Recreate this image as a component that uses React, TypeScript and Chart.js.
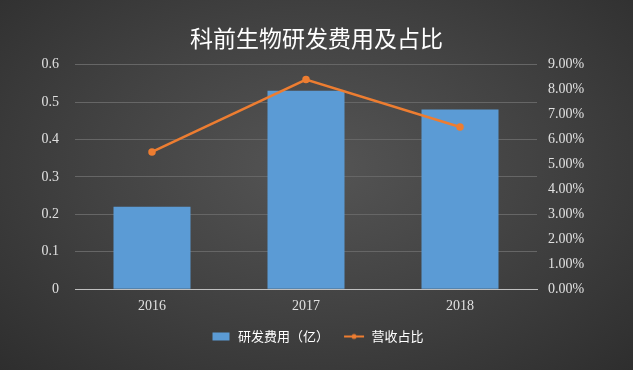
import React, { useEffect, useRef } from "react";
import { Chart, registerables } from "chart.js";

Chart.register(...registerables);

const categories = ["2016", "2017", "2018"];
const rdExpense = [0.22, 0.53, 0.48];
const revenueShare = [5.5, 8.4, 6.5];
const titleText = "科前生物研发费用及占比";
const barLabel = "研发费用（亿）";
const lineLabel = "营收占比";

const BAR_COLOR = "#5b9bd5";
const LINE_COLOR = "#ed7d31";

function makeIcon(kind: "bar" | "line"): HTMLCanvasElement {
  const c = document.createElement("canvas");
  c.width = 22;
  c.height = 10;
  const g = c.getContext("2d")!;
  if (kind === "bar") {
    g.fillStyle = BAR_COLOR;
    g.fillRect(3, 1, 17, 8);
  } else {
    g.strokeStyle = LINE_COLOR;
    g.lineWidth = 2;
    g.beginPath();
    g.moveTo(1, 5);
    g.lineTo(21, 5);
    g.stroke();
    g.fillStyle = LINE_COLOR;
    g.beginPath();
    g.arc(11, 5, 2.5, 0, Math.PI * 2);
    g.fill();
  }
  return c;
}

export default function App() {
  const ref = useRef<HTMLCanvasElement | null>(null);
  useEffect(() => {
    if (!ref.current) return;
    const tickFont = { family: "'Liberation Serif', 'Noto Sans CJK SC', serif", size: 14 };
    const barIcon = makeIcon("bar");
    const lineIcon = makeIcon("line");
    const chart = new Chart(ref.current, {
      data: {
        labels: categories,
        datasets: [
          {
            type: "line",
            label: lineLabel,
            data: revenueShare,
            yAxisID: "y1",
            borderColor: LINE_COLOR,
            backgroundColor: LINE_COLOR,
            borderWidth: 2.5,
            pointRadius: 2.5,
            pointStyle: "circle",
            order: 0,
          },
          {
            type: "bar",
            label: barLabel,
            data: rdExpense,
            yAxisID: "y",
            backgroundColor: BAR_COLOR,
            barPercentage: 0.5,
            categoryPercentage: 1,
            order: 1,
          },
        ],
      } as any,
      options: {
        animation: false,
        responsive: false,
        maintainAspectRatio: false,
        layout: { padding: { top: 0, bottom: 17, left: 0, right: 0 } },
        plugins: {
          title: {
            display: true,
            text: titleText,
            color: "#ffffff",
            font: { family: "'Noto Sans CJK SC', sans-serif", size: 23, weight: "normal" },
            padding: { top: 24, bottom: 13 },
          },
          legend: {
            position: "bottom",
            reverse: true,
            labels: {
              color: "#ffffff",
              font: { family: "'Noto Sans CJK SC', sans-serif", size: 13 },
              usePointStyle: true,
              pointStyleWidth: 22,
              padding: 14,
              generateLabels: (c: any) =>
                c.data.datasets.map((ds: any, i: number) => ({
                  text: ds.label,
                  fillStyle: ds.type === "bar" ? BAR_COLOR : LINE_COLOR,
                  strokeStyle: ds.type === "bar" ? BAR_COLOR : LINE_COLOR,
                  lineWidth: 0,
                  pointStyle: ds.type === "bar" ? barIcon : lineIcon,
                  fontColor: "#ffffff",
                  datasetIndex: i,
                  hidden: false,
                })),
            },
          },
          tooltip: { enabled: false },
        },
        scales: {
          x: {
            grid: { display: false },
            border: { display: true, color: "#bfbfbf", width: 1 },
            ticks: { color: "#e0e0e0", font: tickFont, padding: 1 },
          },
          y: {
            position: "left",
            min: 0,
            max: 0.6,
            ticks: { stepSize: 0.1, color: "#e0e0e0", font: tickFont, padding: 16 },
            grid: { color: "#666666", lineWidth: 1, drawTicks: false },
            border: { display: false },
            afterFit: (s: any) => {
              s.width = 75;
            },
          },
          y1: {
            position: "right",
            min: 0,
            max: 9,
            ticks: {
              stepSize: 1,
              color: "#e0e0e0",
              font: tickFont,
              padding: 11,
              callback: (v: any) => Number(v).toFixed(2) + "%",
            },
            grid: { display: false, drawTicks: false },
            border: { display: false },
            afterFit: (s: any) => {
              s.width = 96;
            },
          },
        },
      },
    });
    return () => chart.destroy();
  }, []);
  return (
    <div
      style={{
        position: "absolute",
        left: 0,
        top: 0,
        width: 633,
        height: 370,
        background: "radial-gradient(ellipse at 50% 45%, #555555 0%, #444444 45%, #2e2e2e 100%)",
      }}
    >
      <canvas ref={ref} width={633} height={370} style={{ display: "block" }} />
    </div>
  );
}
